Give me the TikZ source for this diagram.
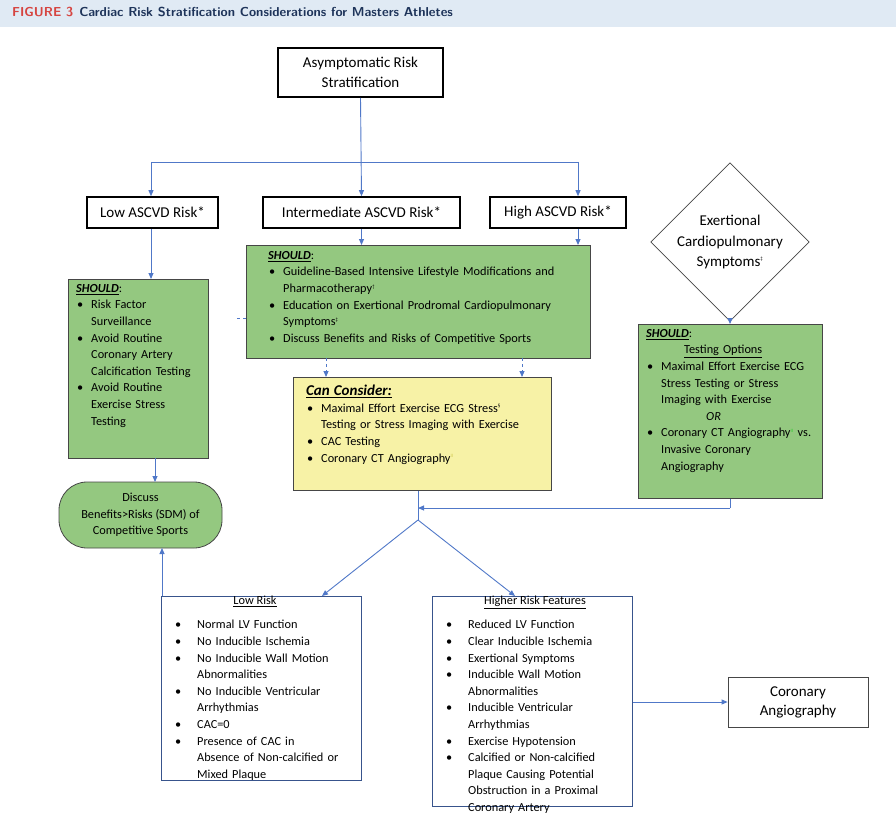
\documentclass[tikz,border=0pt]{standalone}
\usepackage{fontspec}
\setmainfont{Carlito}
\usepackage{enumitem}
\usetikzlibrary{shapes.geometric,arrows.meta}
\definecolor{arr}{RGB}{80,120,200}
\definecolor{gfill}{RGB}{148,200,128}
\definecolor{yfill}{RGB}{247,242,166}
\definecolor{bord}{RGB}{70,70,70}
\definecolor{barbg}{RGB}{224,234,244}
\definecolor{figred}{RGB}{214,69,65}
\definecolor{figblue}{RGB}{30,52,90}
\newcommand{\bt}{\fontsize{12.3}{16.6}\selectfont}
\newlist{bl}{itemize}{1}
\setlist[bl]{label=\textbullet,leftmargin=15pt,labelsep=8pt,itemsep=0pt,topsep=0pt,parsep=0pt,partopsep=0pt}
\newlist{blw}{itemize}{1}
\setlist[blw]{label=\textbullet,leftmargin=27pt,labelsep=16pt,itemsep=0pt,topsep=0pt,parsep=0pt,partopsep=0pt}
\tikzset{
  a/.style={draw=arr,line width=0.9pt,-{Triangle[length=6pt,width=5pt]}},
  ln/.style={draw=arr,line width=0.9pt},
  da/.style={draw=arr,line width=0.9pt,dashed,-{Triangle[length=6pt,width=5pt]}},
  hb/.style={draw=black,line width=1.6pt,fill=white,inner sep=0pt,align=center,font=\fontsize{15}{20}\selectfont},
  gb/.style={draw=bord,line width=0.8pt,fill=gfill,inner sep=0pt,anchor=north west},
  wb/.style={draw=arr!70!black,line width=0.8pt,fill=white,inner sep=0pt,anchor=north west},
}
\begin{document}
\begin{tikzpicture}[x=1pt,y=-1pt]
\useasboundingbox (0,0) rectangle (896,821);
\fill[barbg] (0,0) rectangle (896,27);
\node[anchor=west,inner sep=0pt,font=\sffamily\bfseries\fontsize{13}{14}\selectfont] (ttl) at (12,12)
 {\textcolor{figred}{\addfontfeatures{LetterSpace=8}FIGURE 3}\hspace{6pt}\textcolor{figblue}{Cardiac Risk Stratification Considerations for Masters Athletes}};

\node[hb,minimum width=165pt,minimum height=49pt] (top) at (360.5,72.5) {Asymptomatic Risk\\Stratification};
\node[hb,minimum width=131pt,minimum height=31pt] (low) at (152.5,212.5) {Low ASCVD Risk*};
\node[hb,minimum width=197pt,minimum height=31pt] (mid) at (361.5,212.5) {Intermediate ASCVD Risk*};
\node[hb,minimum width=136pt,minimum height=31pt] (high) at (558,212.5) {High ASCVD Risk*};
\node[diamond,draw=bord,line width=0.8pt,fill=white,minimum width=158pt,minimum height=118pt,inner sep=0pt,align=center,font=\fontsize{15}{20}\selectfont] (dia) at (730,242) {Exertional\\Cardiopulmonary\\Symptoms\textsuperscript{\tiny‡}};

\coordinate (hl) at (151,162);
\coordinate (hr) at (578,162);
\draw[a] (top.south) -- (mid.north);
\draw[ln] (hl) -- (hr);
\draw[a] (hl) -- (hl|-low.north);
\draw[a] (hr) -- (hr|-high.north);

% intermediate green
\node[gb,minimum width=344pt,minimum height=113pt] (g2) at (246,245) {};
\node[anchor=north west,inner sep=0pt,text width=318pt,font=\bt] (g2t) at (268,251) {\textit{\textbf{\underline{SHOULD}}}:
\begin{bl}
\item Guideline-Based Intensive Lifestyle Modifications and Pharmacotherapy\textsuperscript{\tiny†}
\item Education on Exertional Prodromal Cardiopulmonary Symptoms\textsuperscript{\tiny‡}
\item Discuss Benefits and Risks of Competitive Sports
\end{bl}};
\draw[a] (mid.south) -- (mid.south|-g2.north);
\draw[a] (high.south-|hr) -- (hr|-g2.north);
\coordinate (stub) at (237,318);
\draw[ln,dashed] (stub) -- (stub-|g2.west);

% yellow
\node[draw=bord,line width=0.8pt,fill=yfill,inner sep=0pt,anchor=north west,minimum width=258pt,minimum height=113pt] (y) at (293,377) {};
\node[anchor=north west,inner sep=0pt,text width=238pt,font=\bt] (yt) at (306,385) {{\fontsize{15}{19}\selectfont\textit{\textbf{\underline{Can Consider:}}}}
\begin{bl}
\item Maximal Effort Exercise ECG Stress\textsuperscript{\tiny§}\\ Testing or Stress Imaging with Exercise
\item CAC Testing
\item Coronary CT Angiography\textsuperscript{\tiny\textcolor{yellow!60!gray}{II}}
\end{bl}};
\draw[da] (326,358) -- (326,377);
\draw[da] (522,358) -- (522,377);

% left green
\node[gb,minimum width=140pt,minimum height=179pt] (g1) at (68,279) {};
\node[anchor=north west,inner sep=0pt,text width=122pt,font=\bt] (g1t) at (76,284) {\textit{\textbf{\underline{SHOULD}}}:
\begin{bl}
\item Risk Factor\\ Surveillance
\item Avoid Routine Coronary Artery Calcification Testing
\item Avoid Routine Exercise Stress Testing
\end{bl}};
\draw[a] (low.south-|hl) -- (hl|-g1.north);

\node[draw=bord,line width=0.8pt,fill=gfill,rounded corners=28pt,minimum width=163pt,minimum height=66pt,inner sep=0pt,align=center,font=\bt] (oval) at (140.5,515) {Discuss\\Benefits>Risks (SDM) of\\Competitive Sports};
\draw[a] (155,458) -- (155,482);

% right green
\node[gb,minimum width=184pt,minimum height=174pt] (g3) at (638,324) {};
\node[anchor=north west,inner sep=0pt,text width=170pt,font=\bt] (g3t) at (646,329) {\textit{\textbf{\underline{SHOULD}}}:\\
\hspace*{38pt}\underline{Testing Options}
\begin{bl}
\item Maximal Effort Exercise ECG Stress Testing or Stress Imaging with Exercise\\
\hspace*{45pt}\textit{OR}
\item Coronary CT Angiography\textsuperscript{\tiny\textcolor{green!60!gray}{II}} vs. Invasive Coronary Angiography
\end{bl}};
\draw[a] (dia.south) -- (g3.north-|dia.south);

% merge
\coordinate (m1) at (418,508);
\coordinate (m2) at (418,520);
\coordinate (rc) at (730,508);
\draw[ln] (y.south-|m1) -- (m2);
\draw[ln] (g3.south-|rc) -- (rc);
\draw[a] (rc) -- (m1);

% low risk
\node[wb,minimum width=200pt,minimum height=184pt] (lr) at (161,596) {};
\node[anchor=north,inner sep=0pt,font=\bt] (lrh) at (255,596) {\underline{Low Risk}};
\node[anchor=north west,inner sep=0pt,text width=175pt,font=\bt] (lrt) at (170,612) {\begin{blw}
\item Normal LV Function
\item No Inducible Ischemia
\item No Inducible Wall Motion Abnormalities
\item No Inducible Ventricular Arrhythmias
\item CAC=0
\item Presence of CAC in\\ Absence of Non-calcified or Mixed Plaque
\end{blw}};

% high risk
\node[wb,minimum width=200pt,minimum height=210pt] (hr2) at (432,596) {};
\node[anchor=north,inner sep=0pt,font=\bt] (hrh) at (535,596) {\underline{Higher Risk Features}};
\node[anchor=north west,inner sep=0pt,text width=172pt,font=\bt] (hrt) at (441,612) {\begin{blw}
\item Reduced LV Function
\item Clear Inducible Ischemia
\item Exertional Symptoms
\item Inducible Wall Motion Abnormalities
\item Inducible Ventricular Arrhythmias
\item Exercise Hypotension
\item Calcified or Non-calcified Plaque Causing Potential Obstruction in a Proximal Coronary Artery
\end{blw}};

\draw[a] (m2) -- (322,596);
\draw[a] (m2) -- (515,596);
\draw[a] (162,596) -- (162,548);

\node[draw=bord,line width=0.8pt,fill=white,minimum width=140pt,minimum height=50pt,inner sep=0pt,align=center,font=\fontsize{15}{19}\selectfont] (cor) at (798,702) {Coronary\\Angiography};
\draw[a] (hr2.east|-cor) -- (cor.west);
\end{tikzpicture}
\end{document}
